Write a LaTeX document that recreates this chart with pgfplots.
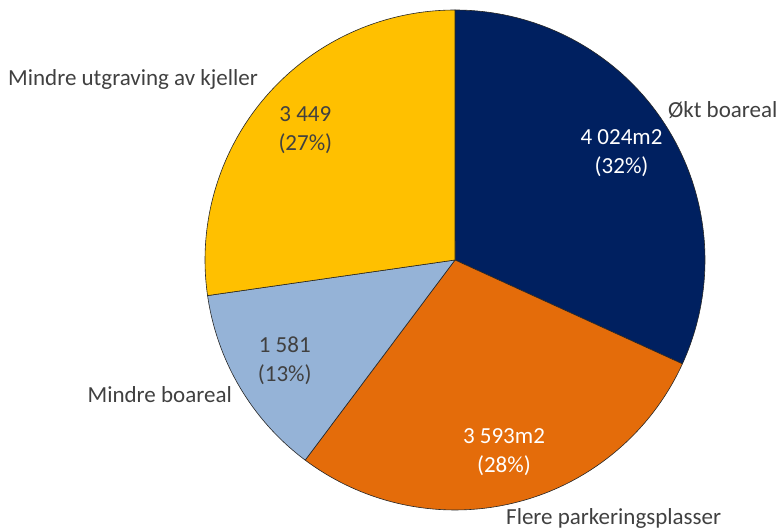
\documentclass[border=0pt]{standalone}
\usepackage{fontspec}
\setmainfont{Carlito}
\usepackage{pgfplots}
\pgfplotsset{compat=1.18}
\definecolor{navyc}{HTML}{002060}
\definecolor{orangec}{HTML}{E46C0A}
\definecolor{bluec}{HTML}{95B3D7}
\definecolor{goldc}{HTML}{FFC000}
\definecolor{txt}{HTML}{404040}
\begin{document}
\begin{tikzpicture}[font=\fontsize{23}{29}\selectfont]
\begin{axis}[x=1pt, y=1pt, xmin=0, xmax=780, ymin=0, ymax=531,
  hide axis, clip=false]
\path (rel axis cs:0,0) rectangle (rel axis cs:1,1);
% slices: value / fill / text colour / label
\gdef\startang{90}
\foreach \v/\c/\tc/\lab in {4024/navyc/white/{4 024m2\\(32\%)},
                            3593/orangec/white/{3 593m2\\(28\%)},
                            1581/bluec/txt/{1 581\\(13\%)},
                            3449/goldc/txt/{3 449\\(27\%)}}{
  \pgfmathsetmacro{\e}{\startang-\v/12647*360}
  \pgfmathsetmacro{\m}{(\startang+\e)/2}
  \edef\temp{%
    \noexpand\filldraw[fill=\c, draw=black!85, line width=0.6pt]
      (axis cs:455,271) -- (axis cs:{455+250*cos(\startang)},{271+250*sin(\startang)})
      arc[start angle=\startang, end angle=\e, radius=250pt] -- cycle;
    \noexpand\node[text=\tc, align=center] at (axis cs:{455+198*cos(\m)},{271+198*sin(\m)})
      {\unexpanded\expandafter{\lab}};}
  \temp
  \xdef\startang{\e}
}
\node[text=txt, anchor=west, inner sep=0pt] at (axis cs:8,452) {Mindre utgraving av kjeller};
\node[text=txt, anchor=west, inner sep=0pt] at (axis cs:668,421) {Økt boareal};
\node[text=txt, anchor=west, inner sep=0pt] at (axis cs:506,13) {Flere parkeringsplasser};
\node[text=txt, anchor=east, inner sep=0pt] at (axis cs:232,136) {Mindre boareal};
\end{axis}
\end{tikzpicture}
\end{document}
